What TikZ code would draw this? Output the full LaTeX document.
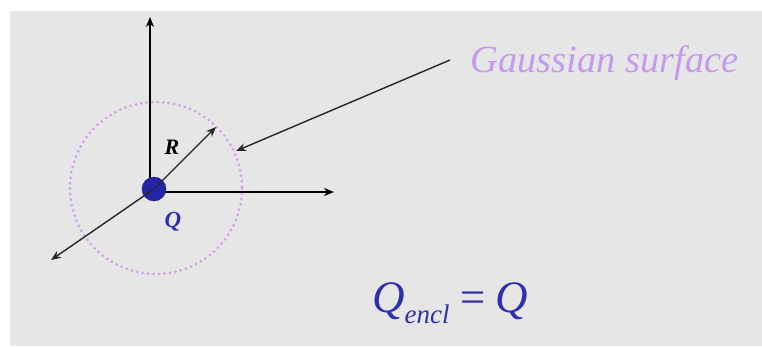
\documentclass[tikz,border=0pt]{standalone}
\usepackage{fontspec}
\setmainfont{Liberation Serif}
\usetikzlibrary{arrows.meta}
\definecolor{bg}{HTML}{E6E6E6}
\definecolor{gsurf}{HTML}{D49CEA}
\definecolor{lav}{HTML}{C49AEE}
\definecolor{qblue}{HTML}{2E30B0}
\definecolor{dotblue}{HTML}{2424A8}
\tikzset{
  axis/.style={line width=1.7pt,-{Stealth[length=10pt,width=8pt]}},
  thinarr/.style={line width=1.4pt,black!85,-{Stealth[length=10pt,width=8pt]}},
  lbl/.style={inner sep=0pt,font=\itshape\bfseries}
}
\begin{document}
\begin{tikzpicture}[x=1pt,y=-1pt]
\useasboundingbox (0,0) rectangle (762,346);
\fill[white] (0,0) rectangle (762,346);
\fill[bg] (10,11) rectangle (762,346);
% gaussian surface
\draw[gsurf,line width=3pt,line cap=round,dash pattern=on 0pt off 5.5pt] (156,188) circle[radius=86];
% axes
\coordinate (O) at (150,192);
\coordinate (ytip) at (150,17);
\coordinate (xtip) at (334,192);
\coordinate (ztip) at (51,260);
\coordinate (rtip) at (216,127);
\coordinate (gstart) at (450,60);
\coordinate (gtip) at (236,151);
\draw[axis] (O) -- (ytip);
\draw[axis] (O) -- (xtip);
\node[circle,fill=dotblue,draw=dotblue!70!black,minimum size=24pt,inner sep=0pt] (q) at (154,189) {};
\draw[thinarr] (q.center) -- (ztip);
\draw[thinarr] (q.center) -- (rtip);
\draw[thinarr] (gstart) -- (gtip);
% labels
\node[lbl,font=\fontsize{22}{24}\selectfont\itshape\bfseries] (R) at (172,147) {R};
\node[lbl,text=qblue,font=\fontsize{23}{26}\selectfont\itshape\bfseries] (Q) at (173,222) {Q};
\node[inner sep=0pt,text=lav,font=\fontsize{38.5}{42}\selectfont\itshape,anchor=west] (gs) at (470,63) {Gaussian surface};
\node[inner sep=0pt,text=qblue,font=\fontsize{45}{48}\selectfont\itshape,anchor=base west] (eq) at (372,312) {Q\raisebox{-0.25em}{\fontsize{27}{30}\selectfont encl}\,=\,Q};
\end{tikzpicture}
\end{document}
